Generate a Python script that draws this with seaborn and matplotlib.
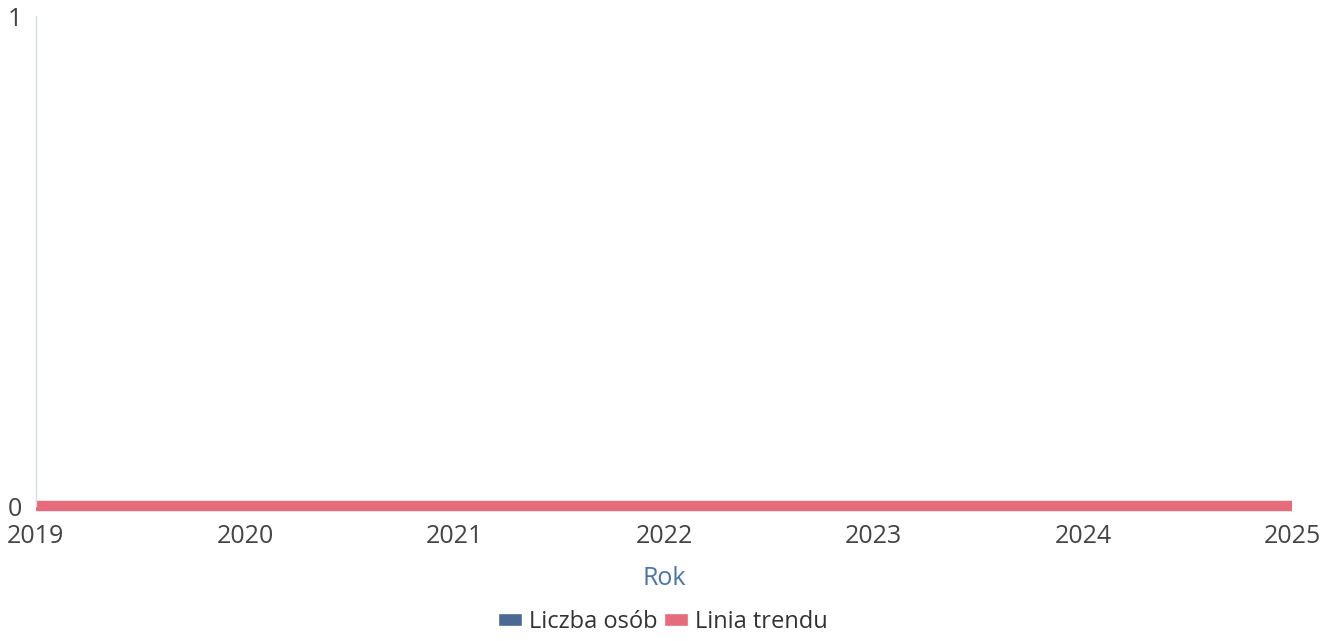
import pandas as pd
import seaborn as sns
import matplotlib.pyplot as plt
from matplotlib.patches import Patch

# Data
years = [2019, 2020, 2021, 2022, 2023, 2024, 2025]
liczba_osob = [0, 0, 0, 0, 0, 0, 0]
linia_trendu = [0, 0, 0, 0, 0, 0, 0]

df = pd.DataFrame({'Rok': years, 'Liczba osób': liczba_osob, 'Linia trendu': linia_trendu})

sns.set_style('white')
plt.rcParams['font.family'] = ['Open Sans', 'DejaVu Sans']

blue = '#4a6a94'
red = '#e66b7b'

fig, ax = plt.subplots(figsize=(13.31, 6.41), dpi=100)
fig.subplots_adjust(left=0.027, right=0.971, top=0.975, bottom=0.21)

sns.lineplot(data=df, x='Rok', y='Liczba osób', color=blue, linewidth=1.5,
             solid_capstyle='butt', ax=ax, clip_on=False)
sns.lineplot(data=df, x='Rok', y='Linia trendu', color=red, linewidth=7.5,
             solid_capstyle='butt', ax=ax, clip_on=False)

ax.set_xlim(2019, 2025)
ax.set_ylim(0, 1)
ax.set_yticks([0, 1])
ax.set_xticks(years)
ax.tick_params(axis='both', labelsize=18, colors='#444444', length=0)
ax.tick_params(axis='x', pad=13)
ax.tick_params(axis='y', pad=10)
ax.set_ylabel('')
ax.set_xlabel('Rok', fontsize=18, color='#4a74a8', labelpad=12)

for s in ['top', 'right', 'bottom']:
    ax.spines[s].set_visible(False)
ax.spines['left'].set_color('#d3dde8')
ax.spines['left'].set_linewidth(1)

handles = [Patch(facecolor=blue, label='Liczba osób'),
           Patch(facecolor=red, label='Linia trendu')]
fig.legend(handles=handles, loc='lower center', bbox_to_anchor=(0.498, -0.022), ncol=2,
           frameon=False, fontsize=17, handlelength=1.0, handleheight=0.5,
           handletextpad=0.3, columnspacing=0.3, labelcolor='#333333')

fig.savefig('out.png', dpi=100)
